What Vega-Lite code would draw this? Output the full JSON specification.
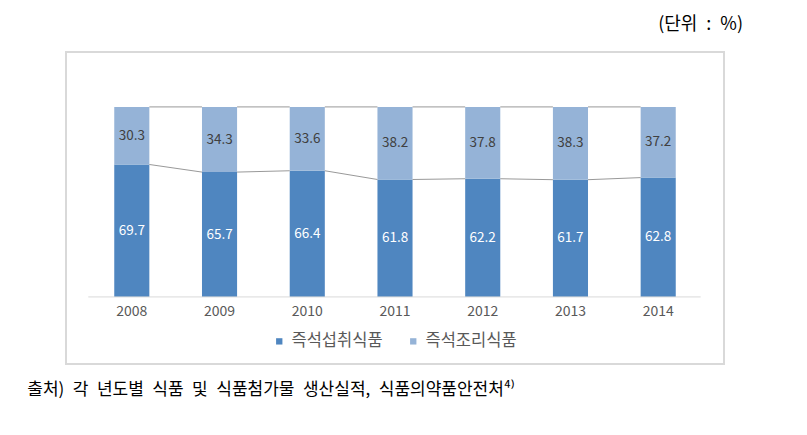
{
  "$schema": "https://vega.github.io/schema/vega-lite/v6.json",
  "width": 658,
  "height": 312,
  "autosize": {"type": "none"},
  "padding": {"left": 66, "top": 52, "right": 83, "bottom": 71},
  "background": "white",
  "title": {
    "text": "(단위\u2002:\u2002%)",
    "anchor": "end",
    "orient": "top",
    "font": "Noto Sans CJK KR",
    "fontSize": 18,
    "fontWeight": "normal",
    "color": "#000000",
    "dx": 19,
    "offset": 18
  },
  "config": {
    "view": {"stroke": "#d9d9d9", "strokeWidth": 2},
    "font": "Noto Sans CJK KR"
  },
  "datasets": {
    "bars": [
      {"year": "2008", "type": "즉석섭취식품", "value": 69.7},
      {"year": "2008", "type": "즉석조리식품", "value": 30.3},
      {"year": "2009", "type": "즉석섭취식품", "value": 65.7},
      {"year": "2009", "type": "즉석조리식품", "value": 34.3},
      {"year": "2010", "type": "즉석섭취식품", "value": 66.4},
      {"year": "2010", "type": "즉석조리식품", "value": 33.6},
      {"year": "2011", "type": "즉석섭취식품", "value": 61.8},
      {"year": "2011", "type": "즉석조리식품", "value": 38.2},
      {"year": "2012", "type": "즉석섭취식품", "value": 62.2},
      {"year": "2012", "type": "즉석조리식품", "value": 37.8},
      {"year": "2013", "type": "즉석섭취식품", "value": 61.7},
      {"year": "2013", "type": "즉석조리식품", "value": 38.3},
      {"year": "2014", "type": "즉석섭취식품", "value": 62.8},
      {"year": "2014", "type": "즉석조리식품", "value": 37.2}
    ],
    "series": [
      {"year": "2008", "next": "2009", "v": 69.7, "vn": 65.7},
      {"year": "2009", "next": "2010", "v": 65.7, "vn": 66.4},
      {"year": "2010", "next": "2011", "v": 66.4, "vn": 61.8},
      {"year": "2011", "next": "2012", "v": 61.8, "vn": 62.2},
      {"year": "2012", "next": "2013", "v": 62.2, "vn": 61.7},
      {"year": "2013", "next": "2014", "v": 61.7, "vn": 62.8},
      {"year": "2008", "next": "2009", "v": 100, "vn": 100},
      {"year": "2009", "next": "2010", "v": 100, "vn": 100},
      {"year": "2010", "next": "2011", "v": 100, "vn": 100},
      {"year": "2011", "next": "2012", "v": 100, "vn": 100},
      {"year": "2012", "next": "2013", "v": 100, "vn": 100},
      {"year": "2013", "next": "2014", "v": 100, "vn": 100}
    ],
    "notes": [
      {"year": "2008", "v": -49, "label": "출처)\u2002각\u2002년도별\u2002식품\u2002및\u2002식품첨가물\u2002생산실적,\u2002식품의약품안전처⁴⁾"}
    ],
    "base": [
      {"year": "2008", "last": "2014", "v": 0}
    ]
  },
  "layer": [
    {
      "data": {"name": "bars"},
      "mark": {"type": "bar"},
      "encoding": {
        "x": {
          "field": "year",
          "type": "nominal",
          "scale": {"domain": ["2008", "2009", "2010", "2011", "2012", "2013", "2014"], "paddingInner": 0.6, "paddingOuter": 0.55},
          "axis": {
            "title": null,
            "orient": "bottom",
            "offset": -67,
            "domain": false,
            "ticks": false,
            "labelAngle": 0,
            "labelFontSize": 14,
            "labelColor": "#595959",
            "labelPadding": 7,
            "grid": false
          }
        },
        "y": {
          "field": "value",
          "type": "quantitative",
          "stack": "zero",
          "scale": {"domain": [-35.3, 128.9], "nice": false, "zero": false},
          "axis": null
        },
        "color": {
          "field": "type",
          "type": "nominal",
          "scale": {"domain": ["즉석섭취식품", "즉석조리식품"], "range": ["#4f86c0", "#95b3d7"]},
          "legend": {
            "title": null,
            "orient": "none",
            "direction": "horizontal",
            "legendX": 205,
            "legendY": 281,
            "symbolType": "square",
            "symbolSize": 40,
            "symbolStrokeWidth": 0,
            "labelFontSize": 16.5,
            "labelColor": "#595959",
            "labelOffset": 4,
            "columnPadding": 22
          }
        },
        "order": {"field": "type", "sort": "ascending"}
      }
    },
    {
      "data": {"name": "bars"},
      "mark": {"type": "text", "fontSize": 13.5},
      "encoding": {
        "x": {"field": "year", "type": "nominal"},
        "y": {"field": "value", "type": "quantitative", "stack": "zero", "bandPosition": 0.5},
        "text": {"field": "value", "type": "quantitative", "format": ".1f"},
        "detail": {"field": "type", "type": "nominal"},
        "color": {
          "condition": {"test": "datum.type === '즉석섭취식품'", "value": "#ffffff"},
          "value": "#404040"
        },
        "order": {"field": "type", "sort": "ascending"}
      }
    },
    {
      "data": {"name": "series"},
      "mark": {"type": "rule", "color": "#999999", "strokeWidth": 1},
      "encoding": {
        "x": {"field": "year", "type": "nominal", "bandPosition": 1},
        "x2": {"field": "next", "bandPosition": 0},
        "y": {"field": "v", "type": "quantitative"},
        "y2": {"field": "vn"}
      }
    },
    {
      "data": {"name": "base"},
      "mark": {"type": "rule", "color": "#d9d9d9", "strokeWidth": 1},
      "encoding": {
        "x": {"field": "year", "type": "nominal", "bandPosition": -0.74},
        "x2": {"field": "last", "bandPosition": 1.71},
        "y": {"field": "v", "type": "quantitative"}
      }
    },
    {
      "data": {"name": "notes"},
      "mark": {"type": "text", "align": "left", "baseline": "middle", "fontSize": 17, "color": "#000000", "dx": -87},
      "encoding": {
        "x": {"field": "year", "type": "nominal", "bandPosition": 0},
        "y": {"field": "v", "type": "quantitative"},
        "text": {"field": "label"}
      }
    }
  ]
}
